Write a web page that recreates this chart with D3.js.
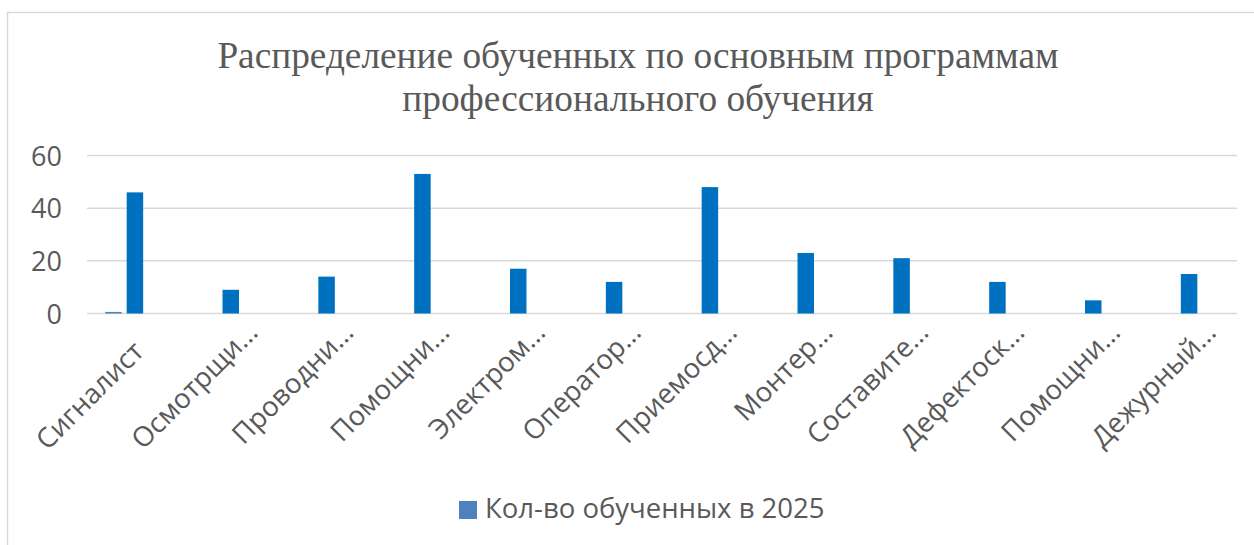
<!DOCTYPE html>
<html>
<head>
<meta charset="utf-8">
<script src="https://cdn.jsdelivr.net/npm/d3@7"></script>
<style>
  body { margin: 0; background: #fff; }
  svg { display: block; }
</style>
</head>
<body>
<svg width="1254" height="545"></svg>
<script>
const width = 1254, height = 545;
const svg = d3.select("svg");

// data
const categories = ["Сигналист", "Осмотрщи…", "Проводни…", "Помощни…", "Электром…", "Оператор…",
    "Приемосд…", "Монтер…", "Составите…", "Дефектоск…", "Помощни…", "Дежурный…"];
const series1 = [0.6, 0, 0, 0, 0, 0, 0, 0, 0, 0, 0, 0];
const series2 = [46, 9, 14, 53, 17, 12, 48, 23, 21, 12, 5, 15];
const series3 = [0, 0, 0, 0, 0, 0, 0, 0, 0, 0, 0, 0];
const seriesNames = ["Кол-во обученных в 2025", "s2", "s3"];
const seriesColors = ["#4F81BD", "#0070C0", "#A5A5A5"];
const yTicks = [0, 20, 40, 60];

const title1 = "Распределение обученных по основным программам";
const title2 = "профессионального обучения";

const plotLeft = 87, plotRight = 1237, plotTop = 155.5, plotBottom = 313.5;
const textColor = "#595959";
const sansFont = "'Open Sans', sans-serif";

// chart border
svg.append("rect")
    .attr("x", 7.5).attr("y", 12.5)
    .attr("width", 1260).attr("height", 540)
    .attr("fill", "none")
    .attr("stroke", "#d9d9d9")
    .attr("stroke-width", 1.5);

// title
svg.append("text")
    .attr("x", 638).attr("y", 68)
    .attr("text-anchor", "middle")
    .style("font-family", "'Liberation Serif', 'Times New Roman', serif")
    .style("font-size", "37.3px")
    .style("fill", textColor)
    .text(title1);
svg.append("text")
    .attr("x", 638).attr("y", 111)
    .attr("text-anchor", "middle")
    .style("font-family", "'Liberation Serif', 'Times New Roman', serif")
    .style("font-size", "37.3px")
    .style("fill", textColor)
    .text(title2);

const x = d3.scaleBand()
    .domain(d3.range(categories.length))
    .range([plotLeft, plotRight])
    .paddingInner(0)
    .paddingOuter(0);

const groupW = 59.5;
const xSub = d3.scaleBand()
    .domain([0, 1, 2])
    .range([-groupW / 2, groupW / 2])
    .paddingInner(0.233);

const y = d3.scaleLinear()
    .domain([0, 60])
    .range([plotBottom, plotTop]);

// gridlines
svg.append("g")
    .selectAll("line")
    .data(yTicks)
    .enter().append("line")
    .attr("x1", plotLeft).attr("x2", plotRight)
    .attr("y1", d => y(d)).attr("y2", d => y(d))
    .attr("stroke", "#d9d9d9")
    .attr("stroke-width", 1.5);

// y axis labels
const yAxis = svg.append("g")
    .attr("transform", `translate(${plotLeft - 25},0)`)
    .call(d3.axisLeft(y).tickValues(yTicks).tickSize(0).tickPadding(0));
yAxis.select(".domain").remove();
yAxis.selectAll(".tick text")
    .attr("dy", "0.36em")
    .style("font-family", sansFont)
    .style("font-size", "27px")
    .style("fill", textColor);

// bars
const allSeries = [series1, series2, series3];
allSeries.forEach((vals, si) => {
    svg.append("g")
        .selectAll("rect")
        .data(vals)
        .enter().append("rect")
        .attr("x", (d, i) => x(i) + x.bandwidth() / 2 + xSub(si))
        .attr("y", d => y(d))
        .attr("width", xSub.bandwidth())
        .attr("height", d => plotBottom - y(d))
        .attr("fill", seriesColors[si]);
});

// category labels, rotated (truncated ones sit a bit higher, like in Excel)
svg.append("g")
    .selectAll("text")
    .data(categories)
    .enter().append("text")
    .attr("transform", (d, i) => {
        const cut = d.endsWith("…");
        const cx = x(i) + x.bandwidth() / 2 - 3 + (cut ? 18 : 0);
        const cy = plotBottom + 26 - (cut ? 19 : 0);
        return `translate(${cx},${cy}) rotate(-45)`;
    })
    .attr("text-anchor", "end")
    .attr("dy", "0.7em")
    .style("font-family", sansFont)
    .style("font-size", "27.5px")
    .style("fill", textColor)
    .text(d => d);

// legend
const legend = svg.append("g").attr("transform", "translate(459,501)");
legend.append("rect")
    .attr("width", 18).attr("height", 18)
    .attr("fill", seriesColors[0]);
legend.append("text")
    .attr("x", 26).attr("y", 17)
    .style("font-family", sansFont)
    .style("font-size", "27.5px")
    .style("fill", textColor)
    .text(seriesNames[0]);
</script>
</body>
</html>
